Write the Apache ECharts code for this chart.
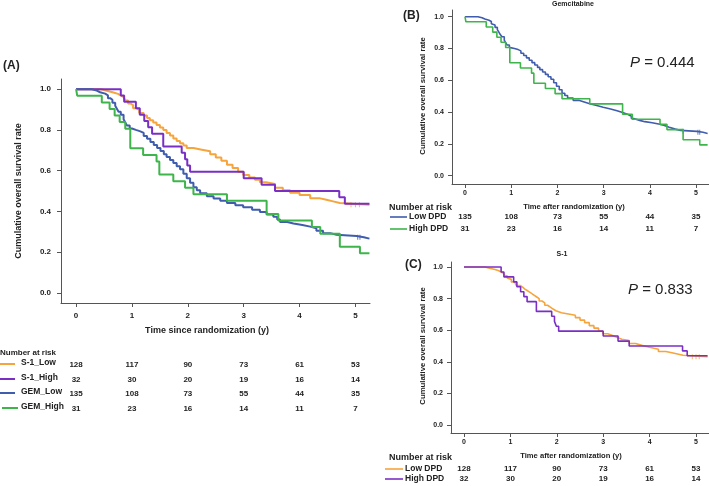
<!DOCTYPE html>
<html><head><meta charset="utf-8">
<script src="https://cdn.jsdelivr.net/npm/echarts@6/dist/echarts.min.js"></script>
<style>html,body{margin:0;padding:0;background:#fff}#c{width:709px;height:486px}</style>
</head><body><div id="c"></div>
<script>
// ---- data ----
const tickYears = [0, 1, 2, 3, 4, 5];
const yTicks = [0, 0.2, 0.4, 0.6, 0.8, 1.0];

const s1LowT = [0,0.45,0.55,0.67,0.75,0.80,0.85,0.88,0.93,0.97,1.02,1.09,1.13,1.21,1.27,1.32,1.38,1.44,1.50,1.56,1.62,1.68,1.74,1.80,1.86,1.92,1.98,2.10,2.25,2.40,2.50,2.60,2.70,2.80,2.90,2.99,3.10,3.20,3.29,3.40,3.56,3.70,3.83,4.00,4.19,4.35,4.48,4.60,4.72,5.25];
const s1LowS = [1,0.992,0.984,0.977,0.969,0.961,0.953,0.945,0.930,0.922,0.906,0.898,0.883,0.871,0.859,0.848,0.836,0.824,0.812,0.800,0.785,0.773,0.758,0.746,0.734,0.723,0.711,0.703,0.695,0.680,0.664,0.648,0.629,0.613,0.594,0.578,0.566,0.555,0.543,0.535,0.516,0.504,0.492,0.480,0.465,0.457,0.449,0.441,0.432,0.432];

const s1HighT = [0,0.80,0.86,1.07,1.14,1.22,1.29,1.36,1.56,1.89,1.95,1.99,2.04,3.00,3.32,3.56,4.71,4.81,5.25];
const s1HighS = [1,0.969,0.938,0.906,0.875,0.844,0.813,0.781,0.719,0.688,0.656,0.625,0.594,0.563,0.531,0.500,0.469,0.438,0.438];

const gemLowT = [0,0.28,0.37,0.43,0.52,0.57,0.61,0.65,0.70,0.73,0.76,0.80,0.85,0.88,0.91,0.96,1.00,1.07,1.15,1.21,1.27,1.33,1.39,1.45,1.51,1.57,1.62,1.68,1.74,1.80,1.86,1.92,1.98,2.04,2.10,2.16,2.22,2.34,2.46,2.58,2.70,2.85,2.99,3.15,3.29,3.41,3.53,3.60,3.65,3.78,3.89,4.05,4.19,4.30,4.42,4.55,4.66,5.02,5.15,5.25];
const gemLowS = [1,0.993,0.985,0.978,0.970,0.956,0.948,0.933,0.919,0.904,0.889,0.874,0.852,0.837,0.822,0.807,0.800,0.793,0.785,0.770,0.756,0.741,0.726,0.711,0.696,0.681,0.667,0.652,0.637,0.622,0.607,0.585,0.563,0.541,0.519,0.504,0.489,0.474,0.463,0.452,0.441,0.430,0.420,0.408,0.397,0.385,0.374,0.360,0.348,0.340,0.333,0.325,0.317,0.305,0.293,0.285,0.279,0.273,0.266,0.263];

const gemHighT = [0,0.02,0.46,0.60,0.69,0.78,0.88,0.97,1.20,1.44,1.49,1.74,1.95,2.10,2.70,3.41,3.62,4.22,4.37,4.72,5.08,5.25];
const gemHighS = [1,0.968,0.935,0.903,0.871,0.839,0.806,0.710,0.677,0.645,0.581,0.548,0.516,0.484,0.452,0.387,0.355,0.323,0.290,0.226,0.194,0.194];

// censoring marks (times)
const s1LowCensor = [4.92, 5.00, 5.07];
const gemLowCensor = [4.72, 5.04, 5.08];

const riskS1Low = [128, 117, 90, 73, 61, 53];
const riskS1High = [32, 30, 20, 19, 16, 14];
const riskGemLow = [135, 108, 73, 55, 44, 35];
const riskGemHigh = [31, 23, 16, 14, 11, 7];

const labelsA = ['S-1_Low', 'S-1_High', 'GEM_Low', 'GEM_High'];
const labelsDPD = ['Low DPD', 'High DPD'];

// ---- styles ----
const C_OR = '#f6a43c', C_PU = '#7a2fc4', C_BL = '#3f5cad', C_GR = '#3db54a';
const FF = '"Liberation Sans", Arial, sans-serif';
const AX = '#555';

function zip(t, s) { return t.map((v, i) => [v, s[i]]); }
// survival value at time x, looked up from the step data
function stepAt(t, s, x) { let v = s[0]; for (let i = 0; i < t.length; i++) { if (t[i] <= x) v = s[i]; } return v; }

function xAx(gi, min, max, fs, margin) {
  return {
    type: 'value', gridIndex: gi, min: min, max: max,
    axisLine: { show: true, onZero: false, lineStyle: { color: AX, width: 1 } },
    axisTick: { show: true, customValues: tickYears, length: 4, lineStyle: { color: AX } },
    axisLabel: { customValues: tickYears, fontSize: fs, fontWeight: 'bold', color: '#222', fontFamily: FF, margin: margin },
    splitLine: { show: false }
  };
}
function yAx(gi, min, max, fs, margin) {
  return {
    type: 'value', gridIndex: gi, min: min, max: max,
    axisLine: { show: true, onZero: false, lineStyle: { color: AX, width: 1 } },
    axisTick: { show: true, customValues: yTicks, length: 4, lineStyle: { color: AX } },
    axisLabel: { customValues: yTicks, fontSize: fs, fontWeight: 'bold', color: '#222', fontFamily: FF, margin: margin,
      formatter: v => v.toFixed(1) },
    splitLine: { show: false }
  };
}
function km(name, t, s, color, xi, w) {
  return { type: 'line', name: name, step: 'end', data: zip(t, s), xAxisIndex: xi, yAxisIndex: xi,
    showSymbol: false, symbol: 'none', silent: true, lineStyle: { color: color, width: w }, itemStyle: { color: color } };
}
function cens(ct, t, s, color, xi) {
  return { type: 'scatter', data: ct.map(x => [x, stepAt(t, s, x)]), xAxisIndex: xi, yAxisIndex: xi,
    symbol: 'rect', symbolSize: [1, 5], silent: true, itemStyle: { color: color, opacity: 0.8 } };
}

const chart = echarts.init(document.getElementById('c'), null, { renderer: 'canvas' });
chart.setOption({
  animation: false,
  backgroundColor: '#fff',
  grid: [
    { left: 61, top: 79, right: 339, bottom: 183, outerBoundsMode: 'none' },
    { left: 452, top: 10, right: 0, bottom: 302, outerBoundsMode: 'none' },
    { left: 451, top: 262, right: 0, bottom: 53, outerBoundsMode: 'none' }
  ],
  xAxis: [ xAx(0, -0.27, 5.26, 8, 9), xAx(1, -0.281, 5.28, 7, 6), xAx(2, -0.28, 5.28, 7, 6) ],
  yAxis: [ yAx(0, -0.05, 1.05, 8, 10), yAx(1, -0.052, 1.042, 7, 8), yAx(2, -0.051, 1.032, 7, 8) ],
  series: [
    km('S-1_Low', s1LowT, s1LowS, C_OR, 0, 2),
    km('S-1_High', s1HighT, s1HighS, C_PU, 0, 2),
    km('GEM_Low', gemLowT, gemLowS, C_BL, 0, 2),
    km('GEM_High', gemHighT, gemHighS, C_GR, 0, 2),
    km('Low DPD', gemLowT, gemLowS, C_BL, 1, 1.6),
    km('High DPD', gemHighT, gemHighS, C_GR, 1, 1.6),
    km('Low DPD', s1LowT, s1LowS, C_OR, 2, 1.6),
    km('High DPD', s1HighT, s1HighS, C_PU, 2, 1.6),
    cens(s1LowCensor, s1LowT, s1LowS, C_OR, 0),
    cens(gemLowCensor, gemLowT, gemLowS, C_BL, 0),
    cens(gemLowCensor, gemLowT, gemLowS, C_BL, 1),
    cens(s1LowCensor, s1LowT, s1LowS, C_OR, 2)
  ]
});

// ---- text / tables via graphic ----
const g = [];
function txt(x, y, text, fs, opts) {
  opts = opts || {};
  g.push({ type: 'text', x: x, y: y, rotation: opts.rot || 0, silent: true,
    style: { text: text, fontSize: fs, fontWeight: opts.weight || 'bold', fontFamily: FF,
      fill: opts.fill || '#222', align: opts.align || 'left', verticalAlign: 'middle',
      textAlign: opts.align || 'left', textVerticalAlign: 'middle', rich: opts.rich } });
}
function seg(x1, x2, y, color, w) {
  g.push({ type: 'line', silent: true, shape: { x1: x1, y1: y, x2: x2, y2: y }, style: { stroke: color, lineWidth: w || 2 } });
}
function px(ax, v) { return chart.convertToPixel({ xAxisIndex: ax }, v); }

// panel labels
txt(3, 66, '(A)', 12);
txt(403, 16, '(B)', 12);
txt(405, 265, '(C)', 12);
// titles
txt(573, 4, 'Gemcitabine', 7, { align: 'center' });
txt(562, 254, 'S-1', 7, { align: 'center' });
// axis titles
txt(207, 331, 'Time since randomization (y)', 9, { align: 'center' });
txt(19, 191, 'Cumulative overall survival rate', 9, { align: 'center', rot: Math.PI / 2 });
txt(574, 207, 'Time after randomization (y)', 7.6, { align: 'center' });
txt(423, 96, 'Cumulative overall survival rate', 7.8, { align: 'center', rot: Math.PI / 2 });
txt(571, 456, 'Time after randomization (y)', 7.6, { align: 'center' });
txt(423, 346, 'Cumulative overall survival rate', 7.8, { align: 'center', rot: Math.PI / 2 });
// P values
const richP = { i: { fontStyle: 'italic', fontSize: 15, fontFamily: FF, fill: '#222' }, n: { fontSize: 15, fontFamily: FF, fill: '#222' } };
txt(630, 63, '{i|P}{n| = 0.444}', 15, { weight: 'normal', rich: richP });
txt(628, 290, '{i|P}{n| = 0.833}', 15, { weight: 'normal', rich: richP });

// risk table A
txt(0, 353, 'Number at risk', 8);
const rowsA = [riskS1Low, riskS1High, riskGemLow, riskGemHigh];
const colsA = [C_OR, C_PU, C_BL, C_GR];
const yA = [364, 379, 393, 408];
rowsA.forEach((row, r) => {
  seg(r === 3 ? 2 : 0, r === 3 ? 18 : 15, yA[r], colsA[r], 2);
  txt(21, yA[r] - 1, labelsA[r], 8.5);
  row.forEach((v, i) => txt(px(0, tickYears[i]), yA[r] + 1, String(v), 8, { align: 'center' }));
});
// risk table B
txt(389, 208, 'Number at risk', 9);
const rowsB = [riskGemLow, riskGemHigh], colsB = [C_BL, C_GR], yB = [217, 229];
rowsB.forEach((row, r) => {
  seg(390, 407, yB[r], colsB[r], 1.6);
  txt(409, yB[r], labelsDPD[r], 8.5);
  row.forEach((v, i) => txt(px(1, tickYears[i]), yB[r], String(v), 8, { align: 'center' }));
});
// risk table C
txt(389, 458, 'Number at risk', 9);
const rowsC = [riskS1Low, riskS1High], colsC = [C_OR, C_PU], yC = [469, 479];
rowsC.forEach((row, r) => {
  seg(385, 403, yC[r], colsC[r], 1.6);
  txt(405, yC[r], labelsDPD[r], 8.5);
  row.forEach((v, i) => txt(px(2, tickYears[i]), yC[r], String(v), 8, { align: 'center' }));
});

chart.setOption({ graphic: g });
</script></body></html>
